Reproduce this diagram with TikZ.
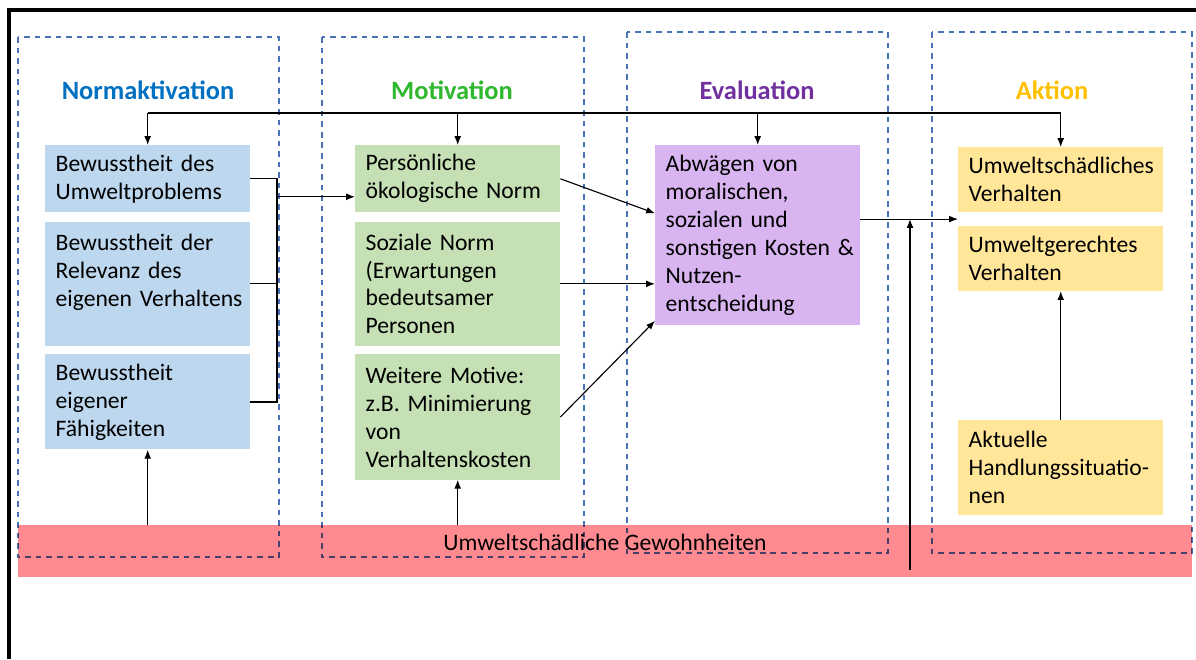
\documentclass[tikz,border=0pt]{standalone}
\usepackage{fontspec}
\setmainfont{Carlito}
\usetikzlibrary{arrows.meta,positioning,calc}
\definecolor{normblue}{HTML}{0070C0}
\definecolor{motgreen}{HTML}{2EB82E}
\definecolor{evalpurple}{HTML}{7030A0}
\definecolor{aktgold}{HTML}{FFC000}
\definecolor{bluefill}{HTML}{BDD7EE}
\definecolor{greenfill}{HTML}{C5E0B4}
\definecolor{purplefill}{HTML}{D8B4F0}
\definecolor{yellowfill}{HTML}{FFE699}
\definecolor{bandred}{HTML}{FF8A90}
\definecolor{framecol}{HTML}{4A72B8}
\tikzset{
  box/.style={anchor=north west, inner xsep=2.6mm, inner ysep=0pt, text width=46mm,
    align=left, font=\fontsize{16.8}{19.9}\selectfont},
  colframe/.style={draw=framecol, line width=0.9pt, dash pattern=on 4pt off 3.5pt},
  headline/.style={font=\fontsize{18.8}{22}\selectfont\bfseries},
  band/.style={fill=bandred, minimum width=29.35cm, minimum height=1.3cm, inner sep=0pt,
    text depth=0.42cm, font=\fontsize{16.8}{19.9}\selectfont},
  flow/.style={-{Latex[length=2.2mm, width=1.7mm]}, line width=0.8pt},
}

\begin{document}
\begin{tikzpicture}[x=0.025cm, y=-0.025cm]
\useasboundingbox (0,0) rectangle (1196,659);

% outer frame, only top and left visible
\draw[line width=2.8pt] (1196,10) -| (9,659);

% the four stages
\draw[colframe] (18,37) rectangle (279,557);
\draw[colframe] (322,37) rectangle (584,557);
\draw[colframe] (627,32) rectangle (888,553);
\draw[colframe] (932,32) rectangle (1192,553);

\node[headline, text=normblue] (t1) at (148,90) {Normaktivation};
\node[headline, text=motgreen] (t2) at (452,90) {Motivation};
\node[headline, text=evalpurple] (t3) at (757,90) {Evaluation};
\node[headline, text=aktgold] (t4) at (1052,90) {Aktion};

\begin{scope}[blend mode=multiply]
  \node[band] (band) at (605,551) {Umweltschädliche Gewohnheiten};
\end{scope}

\node[box, fill=bluefill, minimum height=1.675cm] (b1) at (45,145) {Bewusstheit des\\Umweltproblems};
\node[box, fill=bluefill, minimum height=3.1cm, below=2.25mm of b1] (b2) {Bewusstheit der\\Relevanz des\\\mbox{eigenen Verhaltens}\\\mbox{}};
\node[box, fill=bluefill, minimum height=2.375cm, below=2mm of b2] (b3) {Bewusstheit\\eigener\\Fähigkeiten};

\node[box, fill=greenfill, minimum height=1.675cm] (g1) at (355,145) {Persönliche\\\mbox{ökologische Norm}};
\node[box, fill=greenfill, minimum height=3.1cm, below=2.25mm of g1] (g2) {Soziale Norm\\(Erwartungen\\bedeutsamer\\Personen};
\node[box, fill=greenfill, minimum height=3.125cm, below=2mm of g2] (g3) {Weitere Motive:\\\mbox{z.B. Minimierung}\\von\\Verhaltenskosten};

\node[box, fill=purplefill, minimum height=4.5cm] (p) at (655,145) {Abwägen von\\moralischen,\\sozialen und\\\mbox{sonstigen Kosten \&}\\Nutzen-\\entscheidung};

\node[box, fill=yellowfill, minimum height=1.625cm] (y1) at (958,147) {\mbox{Umweltschädliches}\\Verhalten};
\node[box, fill=yellowfill, minimum height=1.625cm, below=3.25mm of y1] (y2) {Umweltgerechtes\\Verhalten};
\node[box, fill=yellowfill, minimum height=2.375cm] (y3) at (958,420) {Aktuelle\\\mbox{Handlungssituatio-}\\nen};

% feedback line on top
\coordinate (fb) at (0,113);
\draw[line width=0.8pt] (b1.north |- fb) -- (y1.north |- fb);
\foreach \n in {b1,g1,p,y1}
  \draw[flow] (\n.north |- fb) -- (\n.north);

% awareness bracket
\coordinate (bar) at (277,0);
\coordinate (g1in) at ([yshift=-4.5mm]g1.west);
\draw[line width=0.8pt] (b1.east) -- (b1.east -| bar) -- (b3.east -| bar) -- (b3.east);
\draw[line width=0.8pt] (b2.east) -- (b2.east -| bar);
\draw[flow] (bar |- g1in) -- (g1in);

% motives into evaluation
\draw[flow] (g1.east) -- ([yshift=5.5mm]p.west);
\draw[flow] (g2.east) -- (g2.east -| p.west);
\draw[flow] (g3.east) -- ([yshift=1.2mm]p.south west);

% evaluation into action
\coordinate (act) at ($(y1.south west)!0.5!(y2.north west)$);
\coordinate (habit) at (910,570);
\draw[flow] (p.east |- act) -- (act);
\draw[flow] (habit) -- (habit |- act);
\draw[flow] (y3.north) -- (y2.south);

% habits from below
\draw[flow] (b3.south |- band.north) -- (b3.south);
\draw[flow] (g3.south |- band.north) -- (g3.south);

\end{tikzpicture}
\end{document}
